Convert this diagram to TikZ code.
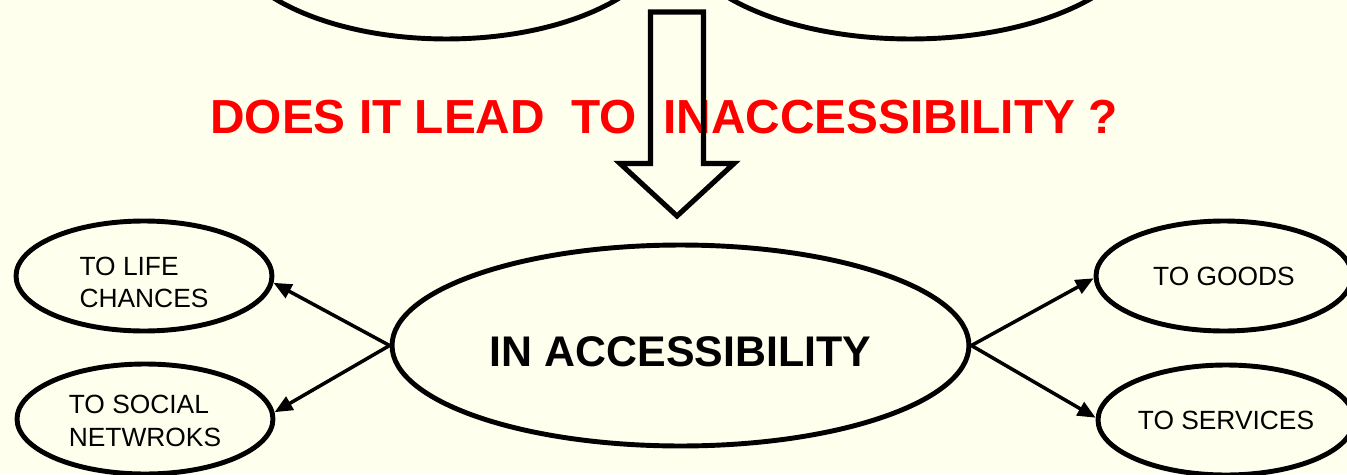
\documentclass[tikz,border=0pt]{standalone}
\usepackage{fontspec}
\setmainfont{Liberation Sans}
\usetikzlibrary{arrows.meta,shapes.geometric}
\definecolor{paper}{RGB}{255,255,238}
\definecolor{alarm}{RGB}{255,0,0}

\begin{document}
\begin{tikzpicture}[
    x=0.02cm, y=-0.02cm,
    oval/.style={ellipse, draw=black, line width=2.8pt, fill=paper, inner sep=0pt, align=left},
    small/.style={oval, minimum width=5.12cm, minimum height=2.2cm, font=\fontsize{15}{18.7}\selectfont},
    link/.style={-{Triangle[length=0.36cm, width=0.3cm]}, line width=2pt},
    hollow/.style={draw=black, line width=2.9pt, line join=miter}
]
\useasboundingbox (0,0) rectangle (1347,474);
\fill[paper] (0,0) rectangle (1347,474);
\clip (0,0) rectangle (1347,474);

% top ovals, cut off by the page edge
\node[oval, minimum width=8.88cm, minimum height=4.4cm] (causeA) at (446.5,-71) {};
\node[oval, minimum width=9.32cm, minimum height=4.4cm] (causeB) at (910.5,-71) {};

% the question
\node[anchor=base, text=alarm, font=\bfseries\fontsize{27.2}{33}\selectfont] (question) at (664,133) {DOES IT LEAD\ \ TO\ \ INACCESSIBILITY ?};

% hollow down arrow
\draw[hollow] (650.5,12) -- (703.5,12) -- (703.5,163.5) -- (734,163.5) -- (677,216) -- (620,163.5) -- (650.5,163.5) -- cycle;

\node[oval, minimum width=11.54cm, minimum height=4.02cm, text height=0.86cm, font=\bfseries\fontsize{24.4}{30}\selectfont] (access) at (680.5,345.5) {IN ACCESSIBILITY};

\node[small, text height=1.28cm] (life) at (144,276) {TO LIFE\\CHANCES};
\node[small, text height=1.1cm] (social) at (145,419) {TO SOCIAL\\NETWROKS};
\node[small] (goods) at (1224,276) {TO GOODS};
\node[small] (services) at (1226,420) {TO SERVICES};

\draw[link] (access.west) -- (life.-3);
\draw[link] (access.west) -- (social.3);
\draw[link] (access.east) -- (goods.181);
\draw[link] (access.east) -- (services.179);

\end{tikzpicture}
\end{document}
